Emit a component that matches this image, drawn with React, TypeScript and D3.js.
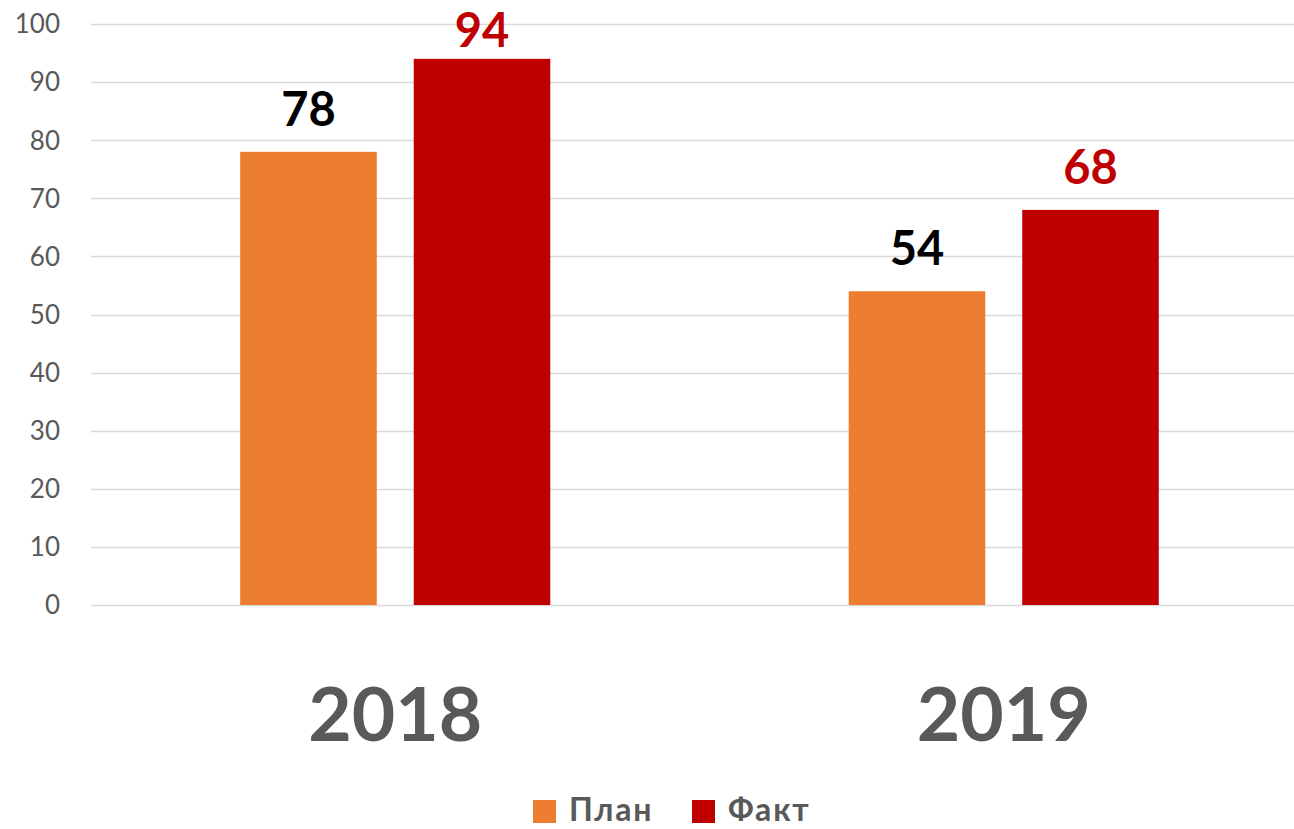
import * as d3 from 'd3';
import { useEffect, useRef } from 'react';

const years = ['2018', '2019'];
const seriesNames = ['План', 'Факт'];
const planValues = [78, 54];
const factValues = [94, 68];
const yTicks = [0, 10, 20, 30, 40, 50, 60, 70, 80, 90, 100];

const colors = ['#ED7D31', '#C00000'];
const labelColors = ['#000000', '#C00000'];

export default function App() {
    const ref = useRef<SVGSVGElement>(null);

    useEffect(() => {
        const width = 1294, height = 829;
        const left = 91, right = 1308, top = 24, bottom = 605;

        const svg = d3.select(ref.current);
        svg.selectAll('*').remove();
        svg.attr('width', width).attr('height', height)
            .style('font-family', 'Lato, "Noto Sans", sans-serif');

        const y = d3.scaleLinear().domain([0, 100]).range([bottom, top]);

        const x0 = d3.scaleBand().domain(years).range([left, right]).padding(0);
        const x1 = d3.scaleBand().domain(seriesNames)
            .range([0, x0.bandwidth()])
            .paddingInner(0.213)
            .paddingOuter(0.86);

        // grid lines
        svg.append('g')
            .selectAll('line')
            .data(yTicks)
            .enter()
            .append('line')
            .attr('x1', left)
            .attr('x2', width)
            .attr('y1', d => Math.round(y(d)) + 0.5)
            .attr('y2', d => Math.round(y(d)) + 0.5)
            .attr('stroke', '#d9d9d9')
            .attr('stroke-width', 1.5);

        // y tick labels
        svg.append('g')
            .selectAll('text')
            .data(yTicks)
            .enter()
            .append('text')
            .attr('x', 60)
            .attr('y', d => y(d))
            .attr('dy', '0.36em')
            .attr('text-anchor', 'end')
            .attr('font-size', 26)
            .attr('fill', '#595959')
            .text(d => d);

        const rows = years.map((yr, i) => ({
            year: yr,
            values: [planValues[i], factValues[i]],
        }));

        const groups = svg.append('g')
            .selectAll('g')
            .data(rows)
            .enter()
            .append('g')
            .attr('transform', d => 'translate(' + x0(d.year) + ',0)');

        groups.selectAll('rect')
            .data(d => d.values.map((v, j) => ({ name: seriesNames[j], value: v, j })))
            .enter()
            .append('rect')
            .attr('x', d => x1(d.name)!)
            .attr('y', d => y(d.value))
            .attr('width', x1.bandwidth())
            .attr('height', d => bottom - y(d.value))
            .attr('fill', d => colors[d.j]);

        // value labels
        groups.selectAll('text.val')
            .data(d => d.values.map((v, j) => ({ name: seriesNames[j], value: v, j })))
            .enter()
            .append('text')
            .attr('class', 'val')
            .attr('x', d => x1(d.name)! + x1.bandwidth() / 2)
            .attr('y', d => Math.max(y(d.value) - 26, 47))
            .attr('text-anchor', 'middle')
            .attr('font-size', 47)
            .attr('font-weight', 'bold')
            .attr('fill', d => labelColors[d.j])
            .text(d => d.value);

        // category labels
        svg.append('g')
            .selectAll('text')
            .data(years)
            .enter()
            .append('text')
            .attr('x', d => x0(d)! + x0.bandwidth() / 2)
            .attr('y', 741)
            .attr('text-anchor', 'middle')
            .attr('font-size', 75)
            .attr('font-weight', 'bold')
            .attr('fill', '#595959')
            .text(d => d);

        // legend
        const legend = svg.append('g').attr('transform', 'translate(533,0)');
        const items = legend.selectAll('g')
            .data(seriesNames)
            .enter()
            .append('g')
            .attr('transform', (d, i) => 'translate(' + i * 159 + ',0)');
        items.append('rect')
            .attr('x', 0)
            .attr('y', 800)
            .attr('width', 23)
            .attr('height', 23)
            .attr('fill', (d, i) => colors[i]);
        items.append('text')
            .attr('x', 36)
            .attr('y', 821)
            .attr('font-size', 32)
            .attr('font-weight', 'bold')
            .attr('letter-spacing', 1.8)
            .attr('fill', '#595959')
            .text(d => d);
    }, []);

    return (
        <div style={{ position: 'absolute', left: 0, top: 0 }}>
            <svg ref={ref} style={{ display: 'block' }} />
        </div>
    );
}
